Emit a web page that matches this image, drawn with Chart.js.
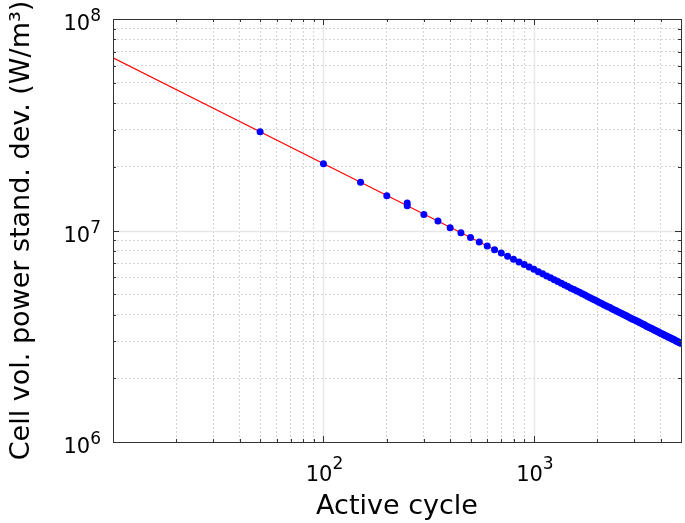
<!DOCTYPE html>
<html>
<head>
<meta charset="utf-8">
<title>Cell vol. power standard deviation</title>
<script src="https://cdn.jsdelivr.net/npm/chart.js@4.4.1/dist/chart.umd.min.js"></script>
<style>
  html, body { margin: 0; padding: 0; background: #fff; }
  #wrap { width: 685px; height: 523px; }
</style>
</head>
<body>
<div id="wrap"><canvas id="stdChart" width="685" height="523"></canvas></div>
<script>
// active cycles of the tallies (250 appears twice)
const cycles = [
  50, 100, 150, 200, 250, 250, 300, 350, 400, 450, 500, 550, 600, 650, 700, 750, 800, 850, 900, 950,
  1000, 1050, 1100, 1150, 1200, 1250, 1300, 1350, 1400, 1450, 1500, 1550, 1600, 1650, 1700, 1750,
  1800, 1850, 1900, 1950, 2000, 2050, 2100, 2150, 2200, 2250, 2300, 2350, 2400, 2450, 2500, 2550,
  2600, 2650, 2700, 2750, 2800, 2850, 2900, 2950, 3000, 3050, 3100, 3150, 3200, 3250, 3300, 3350,
  3400, 3450, 3500, 3550, 3600, 3650, 3700, 3750, 3800, 3850, 3900, 3950, 4000, 4050, 4100, 4150,
  4200, 4250, 4300, 4350, 4400, 4450, 4500, 4550, 4600, 4650, 4700, 4750, 4800, 4850, 4900, 4950, 5000
];

// standard deviation, in units of 1e6 W/m^3
const powerStd = [
  29.3, 20.7, 16.9, 14.6, 13.1, 13.5, 11.9, 11.1, 10.3, 9.75, 9.26, 8.82, 8.45, 8.12, 7.82, 7.56, 7.32, 7.10, 6.90, 6.72,
  6.55, 6.39, 6.24, 6.10, 5.98, 5.85, 5.74, 5.63, 5.53, 5.44, 5.34, 5.26, 5.17, 5.10, 5.02, 4.95,
  4.88, 4.81, 4.75, 4.69, 4.63, 4.57, 4.52, 4.46, 4.41, 4.36, 4.32, 4.27, 4.22, 4.18, 4.14, 4.10,
  4.06, 4.02, 3.98, 3.95, 3.91, 3.88, 3.84, 3.81, 3.78, 3.75, 3.72, 3.69, 3.66, 3.63, 3.60, 3.58,
  3.55, 3.52, 3.50, 3.47, 3.45, 3.43, 3.40, 3.38, 3.36, 3.34, 3.31, 3.29, 3.27, 3.25, 3.23, 3.21,
  3.19, 3.17, 3.16, 3.14, 3.12, 3.10, 3.09, 3.07, 3.05, 3.04, 3.02, 3.00, 2.99, 2.97, 2.96, 2.94, 2.93
];

// 1/sqrt(N) fit line end points
const fitCycles = [10, 5000];
const fitStd = [65.5, 2.93];

const xRange = [10, 5000];
const yRange = [1e6, 1e8];
const xDecades = [100, 1000];
const yDecades = [1e6, 1e7, 1e8];

const FONT = '"DejaVu Sans", Verdana, sans-serif';

// 1..9 x 10^n between min and max
function logTicks(min, max) {
  const out = [];
  for (let e = Math.floor(Math.log10(min)); e <= Math.ceil(Math.log10(max)); e++) {
    for (let m = 1; m <= 9; m++) {
      const v = m * Math.pow(10, e);
      if (v >= min * 0.999 && v <= max * 1.001) out.push(v);
    }
  }
  return out;
}

function isDecade(v) {
  const l = Math.log10(v);
  return Math.abs(l - Math.round(l)) < 1e-9;
}

// solid decade lines, inward tick marks, frame
const frameAndTicks = {
  id: 'frameAndTicks',
  beforeDatasetsDraw(chart) {
    const ctx = chart.ctx;
    const a = chart.chartArea;
    const xs = chart.scales.x, ys = chart.scales.y;
    ctx.save();
    ctx.strokeStyle = '#e8e8e8';
    ctx.lineWidth = 1.5;
    xs.ticks.forEach(function(t) {
      if (!isDecade(t.value)) return;
      const px = Math.round(xs.getPixelForValue(t.value)) + 0.5;
      if (px <= a.left + 1 || px >= a.right - 1) return;
      ctx.beginPath(); ctx.moveTo(px, a.top); ctx.lineTo(px, a.bottom); ctx.stroke();
    });
    ys.ticks.forEach(function(t) {
      if (!isDecade(t.value)) return;
      const py = Math.round(ys.getPixelForValue(t.value)) + 0.5;
      if (py <= a.top + 1 || py >= a.bottom - 1) return;
      ctx.beginPath(); ctx.moveTo(a.left, py); ctx.lineTo(a.right, py); ctx.stroke();
    });
    ctx.restore();
  },
  afterDraw(chart) {
    const ctx = chart.ctx;
    const a = chart.chartArea;
    const xs = chart.scales.x, ys = chart.scales.y;
    ctx.save();
    ctx.strokeStyle = '#333';
    ctx.lineWidth = 1;
    xs.ticks.forEach(function(t) {
      const len = isDecade(t.value) ? 6 : 3;
      const px = Math.round(xs.getPixelForValue(t.value)) + 0.5;
      ctx.beginPath();
      ctx.moveTo(px, a.bottom); ctx.lineTo(px, a.bottom - len);
      ctx.moveTo(px, a.top); ctx.lineTo(px, a.top + len);
      ctx.stroke();
    });
    ys.ticks.forEach(function(t) {
      const len = isDecade(t.value) ? 6 : 3;
      const py = Math.round(ys.getPixelForValue(t.value)) + 0.5;
      ctx.beginPath();
      ctx.moveTo(a.left, py); ctx.lineTo(a.left + len, py);
      ctx.moveTo(a.right, py); ctx.lineTo(a.right - len, py);
      ctx.stroke();
    });
    ctx.strokeRect(Math.round(a.left) + 0.5, Math.round(a.top) + 0.5,
      Math.round(a.right - a.left), Math.round(a.bottom - a.top));

    // decade labels with superscript exponent
    ctx.fillStyle = '#000';
    ctx.textBaseline = 'alphabetic';
    ctx.textAlign = 'left';
    xDecades.forEach(function(v) {
      const px = xs.getPixelForValue(v);
      const exp = String(Math.round(Math.log10(v)));
      ctx.font = '21px ' + FONT;
      const w1 = ctx.measureText('10').width;
      ctx.font = '17px ' + FONT;
      const w2 = ctx.measureText(exp).width;
      const x0 = px - (w1 + w2) / 2 + 1;
      ctx.font = '21px ' + FONT;
      ctx.fillText('10', x0, a.bottom + 39);
      ctx.font = '17px ' + FONT;
      ctx.fillText(exp, x0 + w1, a.bottom + 27);
    });
    yDecades.forEach(function(v) {
      const py = ys.getPixelForValue(v);
      const exp = String(Math.round(Math.log10(v)));
      ctx.font = '17px ' + FONT;
      const w2 = ctx.measureText(exp).width;
      ctx.font = '21px ' + FONT;
      const w1 = ctx.measureText('10').width;
      const right = a.left - 12;
      ctx.fillText('10', right - w2 - w1, py + 11);
      ctx.font = '17px ' + FONT;
      ctx.fillText(exp, right - w2, py + 2);
    });
    ctx.restore();
  }
};

const ctx = document.getElementById('stdChart').getContext('2d');

new Chart(ctx, {
  type: 'scatter',
  data: {
    datasets: [{
      label: 'Std. dev.',
      data: cycles.map(function(c, i) { return { x: c, y: powerStd[i] * 1e6 }; }),
      backgroundColor: '#0000ff',
      borderColor: '#0000ff',
      pointRadius: 3.5,
      pointBorderWidth: 0,
      showLine: false,
      order: 0
    }, {
      label: 'Fit',
      data: fitCycles.map(function(c, i) { return { x: c, y: fitStd[i] * 1e6 }; }),
      borderColor: '#ff0000',
      backgroundColor: '#ff0000',
      borderWidth: 1.1,
      pointRadius: 0,
      showLine: true,
      order: 1
    }]
  },
  options: {
    responsive: false,
    animation: false,
    layout: { padding: { top: 19, right: 3, left: 0, bottom: 0 } },
    plugins: {
      legend: { display: false },
      tooltip: { enabled: false }
    },
    scales: {
      x: {
        type: 'logarithmic',
        min: xRange[0],
        max: xRange[1],
        afterBuildTicks: function(scale) {
          scale.ticks = logTicks(xRange[0], xRange[1]).map(function(v) { return { value: v }; });
        },
        afterFit: function(scale) { scale.height = 81; },
        ticks: { display: false },
        grid: {
          drawTicks: false,
          lineWidth: 1,
          color: function(c) { return c.tick && isDecade(c.tick.value) ? 'rgba(0,0,0,0)' : '#d4d4d4'; }
        },
        border: { display: false, dash: [2, 2] },
        title: {
          display: true,
          text: 'Active cycle',
          color: '#000',
          font: { family: FONT, size: 27 },
          padding: { top: 0, bottom: 0 }
        }
      },
      y: {
        type: 'logarithmic',
        min: yRange[0],
        max: yRange[1],
        afterBuildTicks: function(scale) {
          scale.ticks = logTicks(yRange[0], yRange[1]).map(function(v) { return { value: v }; });
        },
        afterFit: function(scale) { scale.width = 113; },
        ticks: { display: false },
        grid: {
          drawTicks: false,
          lineWidth: 1,
          color: function(c) { return c.tick && isDecade(c.tick.value) ? 'rgba(0,0,0,0)' : '#d4d4d4'; }
        },
        border: { display: false, dash: [2, 2] },
        title: {
          display: true,
          text: 'Cell vol. power stand. dev. (W/m³)',
          color: '#000',
          font: { family: FONT, size: 27 },
          padding: { top: 6, bottom: 0 }
        }
      }
    }
  },
  plugins: [frameAndTicks]
});
</script>
</body>
</html>
